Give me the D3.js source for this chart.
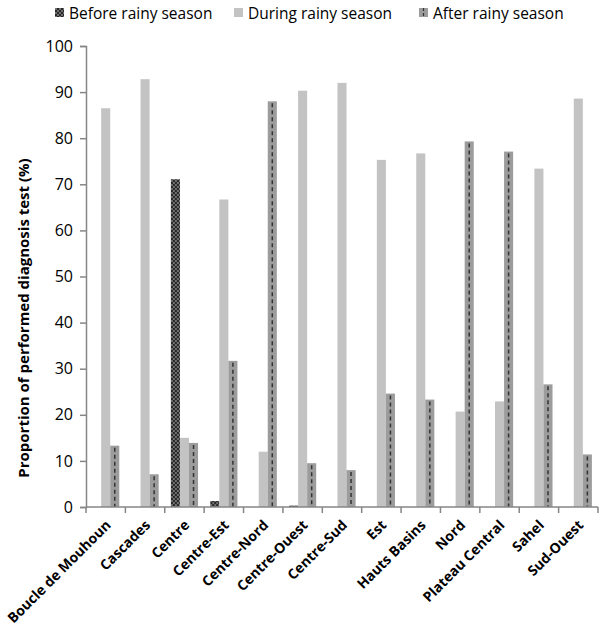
<!DOCTYPE html>
<html>
<head>
<meta charset="utf-8">
<script src="https://cdn.jsdelivr.net/npm/d3@7"></script>
<style>
  body { margin: 0; background: #fff; }
  text { font-family: "Open Sans", "Liberation Sans", sans-serif; }
</style>
</head>
<body>
<svg id="chart"></svg>
<script>
const regions = ['Boucle de Mouhoun', 'Cascades', 'Centre', 'Centre-Est', 'Centre-Nord', 'Centre-Ouest',
  'Centre-Sud', 'Est', 'Hauts Basins', 'Nord', 'Plateau Central', 'Sahel', 'Sud-Ouest'];
const seasons = ['Before rainy season', 'During rainy season', 'After rainy season'];
const before = [0, 0, 71.1, 1.3, 0, 0.3, 0, 0, 0, 0, 0, 0, 0];
const during = [86.5, 92.8, 15.0, 66.7, 12.0, 90.3, 92.0, 75.3, 76.7, 20.7, 22.9, 73.4, 88.6];
const after = [13.3, 7.1, 13.9, 31.7, 88.0, 9.5, 8.0, 24.6, 23.3, 79.3, 77.1, 26.6, 11.4];
const yTicks = [0, 10, 20, 30, 40, 50, 60, 70, 80, 90, 100];

const w = 600, h = 630;
const padL = 86, padR = 598, padT = 46, padB = 507;
const axisCol = '#868686';

const svg = d3.select('#chart').attr('width', w).attr('height', h);

const defs = svg.append('defs');
const dots = defs.append('pattern')
  .attr('id', 'dots').attr('patternUnits', 'userSpaceOnUse')
  .attr('width', 4).attr('height', 4);
dots.append('rect').attr('width', 4).attr('height', 4).attr('fill', '#262626');
dots.append('circle').attr('cx', 1).attr('cy', 1).attr('r', 0.75).attr('fill', '#e0e0e0');
dots.append('circle').attr('cx', 3).attr('cy', 3).attr('r', 0.75).attr('fill', '#e0e0e0');

const x0 = d3.scaleBand().domain(regions).range([padL, padR]).paddingInner(0.31).paddingOuter(0.155);
const x1 = d3.scaleBand().domain(seasons).range([0, x0.bandwidth()]);
const y = d3.scaleLinear().domain([0, 100]).range([padB, padT]);

const fills = {
  'Before rainy season': 'url(#dots)',
  'During rainy season': '#c3c3c3',
  'After rainy season': '#9c9c9c'
};

const rows = regions.map((r, i) => ({region: r, vals: [before[i], during[i], after[i]]}));

const groups = svg.append('g').selectAll('g')
  .data(rows).join('g')
  .attr('transform', d => 'translate(' + x0(d.region) + ',0)');

groups.selectAll('rect')
  .data(d => d.vals.map((v, k) => ({s: seasons[k], v: v})))
  .join('rect')
  .attr('x', d => x1(d.s))
  .attr('y', d => y(d.v))
  .attr('width', x1.bandwidth())
  .attr('height', d => padB - y(d.v))
  .attr('fill', d => fills[d.s]);

// dashed line inside "after" bars
groups.append('line')
  .attr('x1', x1(seasons[2]) + x1.bandwidth() / 2)
  .attr('x2', x1(seasons[2]) + x1.bandwidth() / 2)
  .attr('y1', d => y(d.vals[2]) + 2)
  .attr('y2', padB)
  .attr('stroke', '#333')
  .attr('stroke-width', 1.5)
  .attr('stroke-dasharray', '4,3');

// y axis
const ejeY = d3.axisLeft(y).tickValues(yTicks).tickSize(6).tickPadding(7);
const gy = svg.append('g').attr('transform', 'translate(' + padL + ',0)').call(ejeY);
gy.select('.domain').attr('stroke', axisCol).attr('stroke-width', 1.5);
gy.selectAll('.tick line').attr('stroke', axisCol).attr('stroke-width', 1.5);
gy.selectAll('text').attr('font-size', 16).attr('fill', '#000');

// x axis with ticks between categories
svg.append('line')
  .attr('x1', padL).attr('x2', padR).attr('y1', padB).attr('y2', padB)
  .attr('stroke', axisCol).attr('stroke-width', 1.5);
const step = x0.step();
svg.append('g').selectAll('line')
  .data(d3.range(regions.length + 1))
  .join('line')
  .attr('x1', i => padL + i * step).attr('x2', i => padL + i * step)
  .attr('y1', padB).attr('y2', padB + 6)
  .attr('stroke', axisCol).attr('stroke-width', 1.5);

svg.append('g').selectAll('text')
  .data(regions).join('text')
  .attr('transform', d => 'translate(' + (x0(d) + x0.bandwidth() / 2 + 6) + ',' + (padB + 19) + ') rotate(-45)')
  .attr('text-anchor', 'end')
  .attr('font-size', 14)
  .attr('font-weight', 'bold')
  .text(d => d);

// y title (centred on plot area incl. category labels, as Excel does)
svg.append('text')
  .attr('transform', 'translate(29,318) rotate(-90)')
  .attr('text-anchor', 'middle')
  .attr('font-size', 15)
  .attr('font-weight', 'bold')
  .text('Proportion of performed diagnosis test (%)');

// legend
const legX = [55, 234, 419];
const leg = svg.append('g').selectAll('g')
  .data(seasons).join('g')
  .attr('transform', (d, i) => 'translate(' + legX[i] + ',0)');
leg.append('rect').attr('width', 9).attr('height', 9).attr('y', 8)
  .attr('fill', d => fills[d]);
leg.filter((d, i) => i === 2).append('line')
  .attr('x1', 4.5).attr('x2', 4.5).attr('y1', 8).attr('y2', 17)
  .attr('stroke', '#333').attr('stroke-width', 1.2).attr('stroke-dasharray', '3,2');
leg.append('text').attr('x', 14).attr('y', 19)
  .attr('font-size', 15.5)
  .text(d => d);
</script>
</body>
</html>
